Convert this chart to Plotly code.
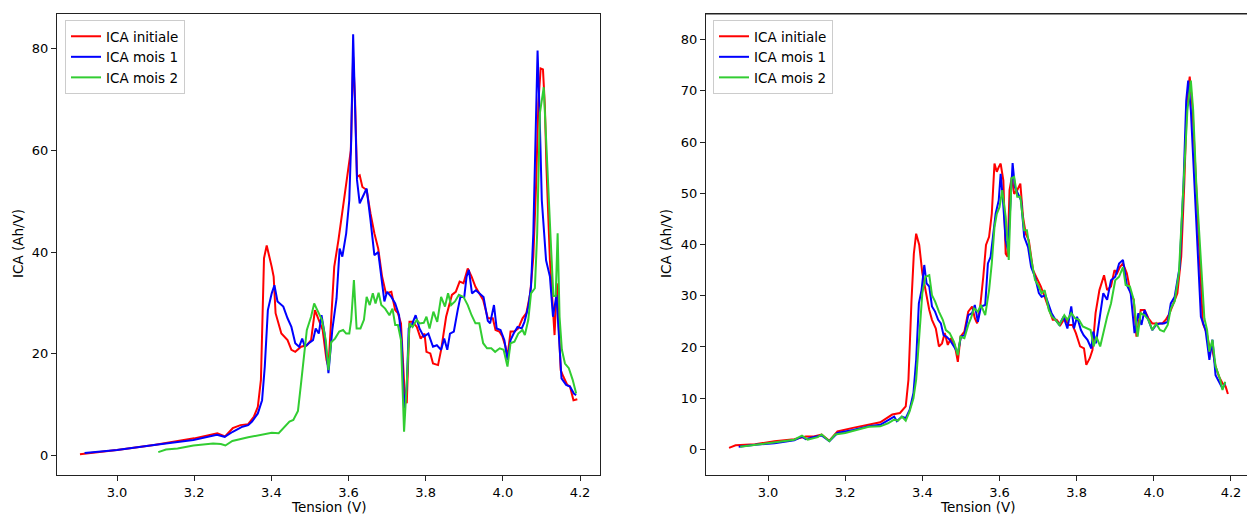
import plotly.graph_objects as go

series_names = ["ICA initiale", "ICA mois 1", "ICA mois 2"]
series_colors = ["#ff0000", "#0000ff", "#32cd32"]

# ---------- Left panel ----------
v_init_L = [2.904, 3.0, 3.096, 3.2, 3.26, 3.28, 3.30, 3.32, 3.34, 3.355, 3.365, 3.373, 3.381, 3.388, 3.401, 3.406,
            3.411, 3.426, 3.442, 3.452, 3.462, 3.477, 3.492, 3.503, 3.513, 3.523, 3.533, 3.543, 3.548, 3.553, 3.563,
            3.574, 3.584, 3.599, 3.606, 3.612, 3.617, 3.622, 3.629, 3.636, 3.647, 3.657, 3.667, 3.677, 3.687, 3.697,
            3.711, 3.721, 3.728, 3.736, 3.746, 3.751, 3.758, 3.766, 3.777, 3.787, 3.797, 3.802, 3.812, 3.819, 3.832,
            3.840, 3.853, 3.868, 3.878, 3.888, 3.898, 3.909, 3.919, 3.929, 3.939, 3.949, 3.961, 3.974, 3.981, 3.991,
            3.999, 4.007, 4.012, 4.020, 4.030, 4.040, 4.051, 4.061, 4.071, 4.079, 4.086, 4.092, 4.098, 4.104, 4.109,
            4.113, 4.122, 4.128, 4.134, 4.140, 4.145, 4.150, 4.157, 4.167, 4.174, 4.183, 4.193]
ica_init_L = [0.3, 1.1, 2.1, 3.4, 4.4, 3.8, 5.4, 6.0, 6.2, 7.7, 9.6, 14.9, 38.8, 41.3, 37.1, 35.2,
              28.0, 24.0, 22.7, 20.8, 20.4, 21.4, 21.7, 22.7, 28.6, 26.6, 24.7, 18.8, 17.5, 24.0, 37.1,
              42.4, 47.6, 55.5, 60.0, 78.4, 69.9, 54.8, 55.1, 52.8, 52.2, 47.6, 43.7, 40.7, 35.2, 31.9,
              32.2, 28.6, 28.0, 26.0, 11.6, 10.3, 26.3, 26.3, 25.3, 23.0, 24.0, 20.4, 20.1, 18.1, 17.8,
              20.8, 27.3, 31.6, 32.2, 34.2, 33.9, 36.8, 35.2, 33.2, 31.9, 30.6, 27.0, 27.0, 24.7, 24.4,
              23.4, 21.4, 19.4, 24.4, 24.4, 25.0, 27.0, 28.0, 31.9, 39.1, 52.8, 69.2, 76.1, 75.9, 68.6,
              56.8, 38.4, 31.9, 23.7, 33.9, 24.0, 16.8, 15.5, 13.9, 13.6, 10.9, 11.1]

v_m1_L = [2.916, 3.0, 3.096, 3.198, 3.259, 3.279, 3.30, 3.325, 3.34, 3.35, 3.365, 3.376, 3.383, 3.391, 3.401, 3.408,
          3.416, 3.431, 3.442, 3.452, 3.462, 3.472, 3.480, 3.487, 3.497, 3.508, 3.515, 3.523, 3.530, 3.538, 3.548,
          3.558, 3.569, 3.577, 3.584, 3.594, 3.602, 3.607, 3.612, 3.617, 3.622, 3.629, 3.640, 3.647, 3.657, 3.667,
          3.677, 3.687, 3.693, 3.700, 3.711, 3.721, 3.731, 3.738, 3.744, 3.751, 3.756, 3.764, 3.774, 3.784, 3.795,
          3.807, 3.819, 3.829, 3.840, 3.848, 3.856, 3.863, 3.873, 3.883, 3.890, 3.900, 3.906, 3.912, 3.920, 3.930,
          3.940, 3.950, 3.961, 3.967, 3.977, 3.984, 3.994, 4.004, 4.012, 4.020, 4.028, 4.038, 4.049, 4.056, 4.066,
          4.073, 4.079, 4.085, 4.090, 4.095, 4.101, 4.112, 4.122, 4.130, 4.139, 4.145, 4.152, 4.164, 4.174, 4.184,
          4.190]
ica_m1_L = [0.5, 1.1, 2.1, 3.1, 4.1, 3.7, 4.7, 5.7, 6.0, 6.7, 8.3, 10.9, 17.5, 28.6, 31.9, 33.5,
            30.3, 29.3, 27.0, 25.3, 22.1, 21.4, 23.0, 21.4, 22.1, 22.7, 25.0, 24.0, 27.6, 24.0, 16.2,
            24.7, 30.9, 40.7, 39.1, 43.7, 50.2, 62.0, 82.8, 66.6, 54.2, 49.6, 51.5, 52.5, 46.3, 39.4,
            40.0, 33.9, 30.3, 32.2, 31.2, 29.9, 27.6, 22.1, 9.3, 13.6, 25.0, 25.7, 27.6, 25.0, 23.4,
            24.0, 21.4, 21.7, 20.8, 23.0, 20.8, 24.0, 24.4, 28.6, 31.2, 31.2, 35.2, 36.5, 31.9, 32.5,
            31.9, 31.2, 26.5, 26.0, 29.6, 25.0, 24.7, 22.7, 18.8, 22.7, 24.0, 25.3, 25.0, 26.3, 29.3,
            33.2, 43.7, 64.6, 79.6, 67.9, 50.2, 38.4, 35.2, 27.3, 31.6, 24.0, 15.2, 13.9, 13.6, 12.2,
            11.9]

v_m2_L = [3.107, 3.127, 3.157, 3.198, 3.249, 3.269, 3.281, 3.299, 3.340, 3.360, 3.381, 3.401, 3.419, 3.431, 3.447,
          3.457, 3.469, 3.477, 3.484, 3.492, 3.503, 3.511, 3.521, 3.531, 3.541, 3.548, 3.555, 3.565, 3.576, 3.586,
          3.594, 3.602, 3.607, 3.614, 3.621, 3.631, 3.640, 3.647, 3.655, 3.663, 3.670, 3.678, 3.685, 3.695, 3.706,
          3.714, 3.721, 3.728, 3.736, 3.744, 3.751, 3.758, 3.766, 3.777, 3.784, 3.795, 3.802, 3.810, 3.820, 3.830,
          3.840, 3.850, 3.858, 3.866, 3.876, 3.886, 3.898, 3.909, 3.919, 3.929, 3.939, 3.949, 3.959, 3.970, 3.980,
          3.992, 4.002, 4.012, 4.020, 4.030, 4.040, 4.051, 4.057, 4.066, 4.073, 4.083, 4.089, 4.096, 4.106, 4.113,
          4.119, 4.124, 4.131, 4.137, 4.142, 4.147, 4.153, 4.161, 4.171, 4.181, 4.190]
ica_m2_L = [0.7, 1.2, 1.4, 2.0, 2.4, 2.3, 2.0, 2.9, 3.6, 3.9, 4.3, 4.5, 4.4, 5.4, 6.7,
            7.0, 8.8, 14.2, 18.8, 24.7, 27.3, 29.9, 28.3, 26.7, 22.7, 16.8, 22.3, 23.0, 24.4, 24.7,
            24.0, 24.0, 26.7, 34.5, 25.0, 25.0, 26.7, 31.2, 29.6, 31.9, 29.9, 32.0, 29.6, 28.9, 27.6,
            28.9, 25.7, 25.7, 22.7, 4.7, 14.2, 26.0, 25.3, 26.7, 26.0, 26.1, 27.3, 25.0, 28.3, 26.3,
            31.2, 29.3, 31.9, 29.6, 30.3, 31.6, 31.2, 29.6, 27.6, 26.0, 26.0, 22.1, 21.1, 21.1, 20.4,
            21.1, 20.8, 17.5, 22.1, 22.4, 24.0, 24.7, 23.7, 26.7, 31.9, 32.9, 43.7, 67.3, 72.4, 60.0,
            48.9, 42.4, 31.4, 31.4, 43.7, 27.3, 20.8, 18.1, 17.2, 14.9, 12.2]

# ---------- Right panel ----------
v_init_R = [2.899, 2.916, 2.967, 3.017, 3.068, 3.098, 3.119, 3.139, 3.159, 3.18, 3.22, 3.261, 3.291, 3.322, 3.342,
            3.357, 3.364, 3.372, 3.378, 3.384, 3.392, 3.400, 3.409, 3.418, 3.425, 3.435, 3.443, 3.451, 3.458, 3.466,
            3.474, 3.484, 3.492, 3.499, 3.509, 3.519, 3.529, 3.536, 3.542, 3.550, 3.558, 3.565, 3.573, 3.580, 3.587,
            3.593, 3.598, 3.603, 3.610, 3.616, 3.621, 3.626, 3.632, 3.638, 3.646, 3.654, 3.661, 3.668, 3.676, 3.687,
            3.697, 3.707, 3.717, 3.728, 3.738, 3.748, 3.758, 3.769, 3.779, 3.789, 3.798, 3.809, 3.819, 3.825, 3.834,
            3.841, 3.849, 3.859, 3.871, 3.879, 3.889, 3.898, 3.905, 3.912, 3.920, 3.930, 3.940, 3.948, 3.955, 3.966,
            3.976, 3.986, 3.996, 4.006, 4.022, 4.031, 4.041, 4.051, 4.061, 4.071, 4.079, 4.086, 4.093, 4.100, 4.107,
            4.117, 4.127, 4.137, 4.144, 4.152, 4.160, 4.169, 4.178, 4.186, 4.192]
ica_init_R = [0.3, 0.8, 1.0, 1.6, 2.0, 2.5, 2.5, 2.9, 1.7, 3.5, 4.2, 4.8, 5.3, 6.8, 7.1,
              8.4, 13.6, 29.2, 38.2, 42.1, 39.9, 34.4, 30.5, 27.2, 25.3, 23.6, 20.1, 20.7, 22.7, 20.4,
              21.7, 20.4, 17.1, 22.0, 23.0, 26.9, 27.9, 25.6, 24.6, 27.9, 33.7, 39.9, 41.5, 46.0, 55.8,
              54.2, 55.1, 55.8, 52.5, 38.2, 37.6, 50.6, 53.2, 49.9, 50.6, 51.9, 45.4, 42.1, 40.8, 35.0,
              33.4, 31.8, 29.8, 27.2, 25.3, 25.3, 24.3, 25.6, 24.3, 24.3, 22.7, 20.1, 19.7, 16.5, 17.8,
              19.4, 26.6, 31.1, 34.0, 31.1, 31.8, 35.0, 34.4, 35.6, 36.3, 34.4, 30.5, 29.2, 22.0, 27.2,
              27.2, 25.6, 24.6, 24.6, 24.6, 25.3, 26.6, 28.5, 30.5, 37.6, 51.9, 68.1, 72.8, 66.8, 55.1,
              38.9, 24.6, 22.7, 20.1, 19.4, 16.2, 14.2, 12.9, 12.3, 10.8]

v_m1_R = [2.924, 2.967, 3.017, 3.068, 3.088, 3.098, 3.119, 3.139, 3.159, 3.180, 3.220, 3.261, 3.291, 3.316, 3.327,
          3.334, 3.347, 3.357, 3.367, 3.377, 3.384, 3.391, 3.398, 3.405, 3.411, 3.418, 3.425, 3.433, 3.441, 3.448,
          3.455, 3.463, 3.471, 3.482, 3.492, 3.500, 3.509, 3.519, 3.529, 3.536, 3.544, 3.552, 3.563, 3.570, 3.577,
          3.583, 3.590, 3.598, 3.603, 3.609, 3.616, 3.622, 3.628, 3.634, 3.640, 3.648, 3.656, 3.664, 3.674, 3.682,
          3.692, 3.702, 3.709, 3.719, 3.727, 3.735, 3.745, 3.755, 3.766, 3.776, 3.786, 3.793, 3.801, 3.811, 3.818,
          3.828, 3.838, 3.843, 3.850, 3.859, 3.869, 3.879, 3.889, 3.900, 3.910, 3.920, 3.930, 3.940, 3.950, 3.960,
          3.968, 3.976, 3.986, 3.996, 4.006, 4.016, 4.026, 4.036, 4.044, 4.054, 4.067, 4.077, 4.084, 4.089, 4.096,
          4.102, 4.112, 4.122, 4.134, 4.140, 4.144, 4.152, 4.160, 4.171, 4.178, 4.185]
ica_m1_R = [0.5, 0.9, 1.2, 1.8, 2.5, 2.0, 2.4, 2.7, 1.6, 3.2, 3.8, 4.5, 4.8, 5.8, 6.4,
            5.5, 6.4, 6.1, 7.7, 11.0, 17.5, 28.5, 31.1, 36.0, 32.4, 31.8, 27.9, 26.9, 25.3, 24.6,
            22.3, 22.0, 21.4, 20.1, 18.8, 22.0, 22.3, 26.2, 26.6, 28.2, 24.9, 27.9, 28.2, 36.3, 37.6,
            41.5, 46.0, 48.6, 53.8, 48.6, 40.8, 38.9, 47.3, 55.9, 51.2, 49.9, 48.6, 41.5, 39.5, 35.6,
            33.7, 30.5, 29.8, 30.1, 28.5, 26.6, 25.3, 24.3, 25.9, 23.6, 27.9, 23.6, 25.9, 23.3, 22.3,
            21.4, 19.7, 23.0, 20.7, 25.3, 30.5, 29.2, 33.0, 33.7, 36.3, 37.0, 32.1, 30.5, 22.7, 26.6,
            24.3, 27.2, 25.3, 23.3, 24.3, 24.6, 24.6, 24.9, 28.5, 29.8, 35.6, 51.9, 68.1, 72.0, 66.2,
            56.4, 40.1, 25.9, 23.3, 20.1, 17.5, 21.4, 14.5, 12.9, 11.9, 12.9]

v_m2_R = [2.928, 2.967, 3.017, 3.068, 3.088, 3.103, 3.129, 3.139, 3.159, 3.174, 3.200, 3.230, 3.261, 3.291, 3.311,
          3.327, 3.337, 3.347, 3.357, 3.367, 3.377, 3.384, 3.392, 3.400, 3.408, 3.418, 3.425, 3.433, 3.443, 3.453,
          3.461, 3.471, 3.482, 3.492, 3.499, 3.509, 3.519, 3.526, 3.534, 3.544, 3.552, 3.563, 3.573, 3.580, 3.587,
          3.593, 3.600, 3.607, 3.616, 3.624, 3.631, 3.638, 3.646, 3.654, 3.664, 3.671, 3.682, 3.692, 3.702, 3.709,
          3.717, 3.728, 3.736, 3.745, 3.755, 3.768, 3.776, 3.786, 3.796, 3.806, 3.816, 3.826, 3.836, 3.844, 3.851,
          3.861, 3.869, 3.879, 3.889, 3.900, 3.910, 3.920, 3.927, 3.938, 3.948, 3.958, 3.966, 3.976, 3.986, 3.996,
          4.006, 4.016, 4.026, 4.036, 4.044, 4.054, 4.065, 4.077, 4.087, 4.096, 4.102, 4.110, 4.121, 4.131, 4.138,
          4.144, 4.152, 4.160, 4.171, 4.178, 4.185]
ica_m2_R = [0.5, 0.9, 1.4, 1.9, 2.7, 1.9, 2.4, 2.9, 1.6, 2.9, 3.2, 3.8, 4.4, 4.5, 5.1,
            5.8, 5.6, 6.4, 5.6, 7.4, 10.0, 13.6, 21.4, 30.5, 33.7, 34.0, 30.1, 28.9, 26.9, 25.3,
            23.3, 22.7, 21.0, 18.4, 22.0, 21.7, 24.3, 25.6, 27.5, 26.9, 28.2, 26.2, 31.1, 36.3, 43.4,
            46.0, 47.3, 50.6, 45.4, 37.0, 52.9, 53.2, 49.3, 49.3, 42.8, 42.8, 37.3, 33.1, 31.8, 30.5,
            31.1, 27.2, 25.9, 25.3, 24.3, 26.2, 25.3, 26.6, 25.6, 25.3, 24.0, 23.6, 23.3, 20.1, 22.0,
            20.1, 22.7, 25.9, 28.5, 33.0, 33.7, 35.6, 32.1, 31.8, 29.2, 22.0, 26.6, 26.2, 25.3, 23.3,
            24.6, 23.3, 23.0, 24.3, 27.5, 28.9, 34.4, 51.2, 66.2, 72.0, 66.2, 51.9, 38.9, 25.6, 23.3,
            19.1, 21.4, 16.2, 13.9, 11.6, 13.2]

x_tick_vals = [3.0, 3.2, 3.4, 3.6, 3.8, 4.0, 4.2]
x_tick_text = ["3.0", "3.2", "3.4", "3.6", "3.8", "4.0", "4.2"]
y_ticks_L = [0, 20, 40, 60, 80]
y_ticks_R = [0, 10, 20, 30, 40, 50, 60, 70, 80]

W, H = 1247, 516
FONT = "DejaVu Sans"
TICK_SIZE = 13
TEXT_SIZE = 13.5

fig = go.Figure()
left_data = [(v_init_L, ica_init_L), (v_m1_L, ica_m1_L), (v_m2_L, ica_m2_L)]
right_data = [(v_init_R, ica_init_R), (v_m1_R, ica_m1_R), (v_m2_R, ica_m2_R)]
for (xs, ys), name, col in zip(left_data, series_names, series_colors):
    fig.add_trace(go.Scatter(x=xs, y=ys, mode="lines", name=name, line=dict(color=col, width=2),
                             xaxis="x", yaxis="y", legend="legend"))
for (xs, ys), name, col in zip(right_data, series_names, series_colors):
    fig.add_trace(go.Scatter(x=xs, y=ys, mode="lines", name=name, line=dict(color=col, width=2),
                             xaxis="x2", yaxis="y2", legend="legend2"))

axis_common = dict(showgrid=False, zeroline=False, showline=True, linecolor="#222222", linewidth=1,
                   ticks="outside", ticklen=5, tickwidth=1, tickcolor="#222222",
                   tickfont=dict(family=FONT, size=TICK_SIZE, color="black"), automargin=False)

legend_common = dict(xanchor="left", yanchor="top", bgcolor="rgba(255,255,255,0.8)",
                     bordercolor="#cccccc", borderwidth=1,
                     font=dict(family=FONT, size=TEXT_SIZE, color="black"), tracegroupgap=0)

fig.update_layout(
    width=W, height=H,
    margin=dict(l=0, r=0, t=14, b=41),
    paper_bgcolor="white", plot_bgcolor="white",
    showlegend=True,
    xaxis=dict(domain=[57 / W, 600 / W], range=[2.8445, 4.2518], tickvals=x_tick_vals, ticktext=x_tick_text,
               mirror=True, anchor="y", **axis_common),
    yaxis=dict(domain=[0, 1], range=[-3.8, 86.8], tickvals=y_ticks_L, mirror=True, anchor="x", **axis_common),
    xaxis2=dict(domain=[706 / W, 1.0], range=[2.8393, 4.2415], tickvals=x_tick_vals, ticktext=x_tick_text,
                mirror=True, anchor="y2", **axis_common),
    yaxis2=dict(domain=[0, 1], range=[-5, 85], tickvals=y_ticks_R, mirror=False, anchor="x2", **axis_common),
    legend=dict(x=65 / W, y=0.987, **legend_common),
    legend2=dict(x=713 / W, y=0.987, **legend_common),
)

# top spine for right panel
fig.add_shape(type="line", xref="x2 domain", yref="y2 domain", x0=0, x1=1, y0=1, y1=1,
              line=dict(color="#222222", width=1))

label_font = dict(family=FONT, size=TEXT_SIZE, color="black")
fig.add_annotation(text="Tension (V)", xref="paper", yref="paper", x=(57 + 600) / 2 / W, y=-(507 - 475) / 461,
                   xanchor="center", yanchor="middle", showarrow=False, font=label_font)
fig.add_annotation(text="Tension (V)", xref="paper", yref="paper", x=(706 + 1249) / 2 / W, y=-(507 - 475) / 461,
                   xanchor="center", yanchor="middle", showarrow=False, font=label_font)
fig.add_annotation(text="ICA (Ah/V)", xref="paper", yref="paper", x=18 / W, y=(475 - 244) / 461,
                   xanchor="center", yanchor="middle", textangle=-90, showarrow=False, font=label_font)
fig.add_annotation(text="ICA (Ah/V)", xref="paper", yref="paper", x=666 / W, y=(475 - 244) / 461,
                   xanchor="center", yanchor="middle", textangle=-90, showarrow=False, font=label_font)

fig.write_html("out.html", config={"displayModeBar": False},
               post_script="document.body.style.margin='0px';document.body.style.overflow='hidden';")
